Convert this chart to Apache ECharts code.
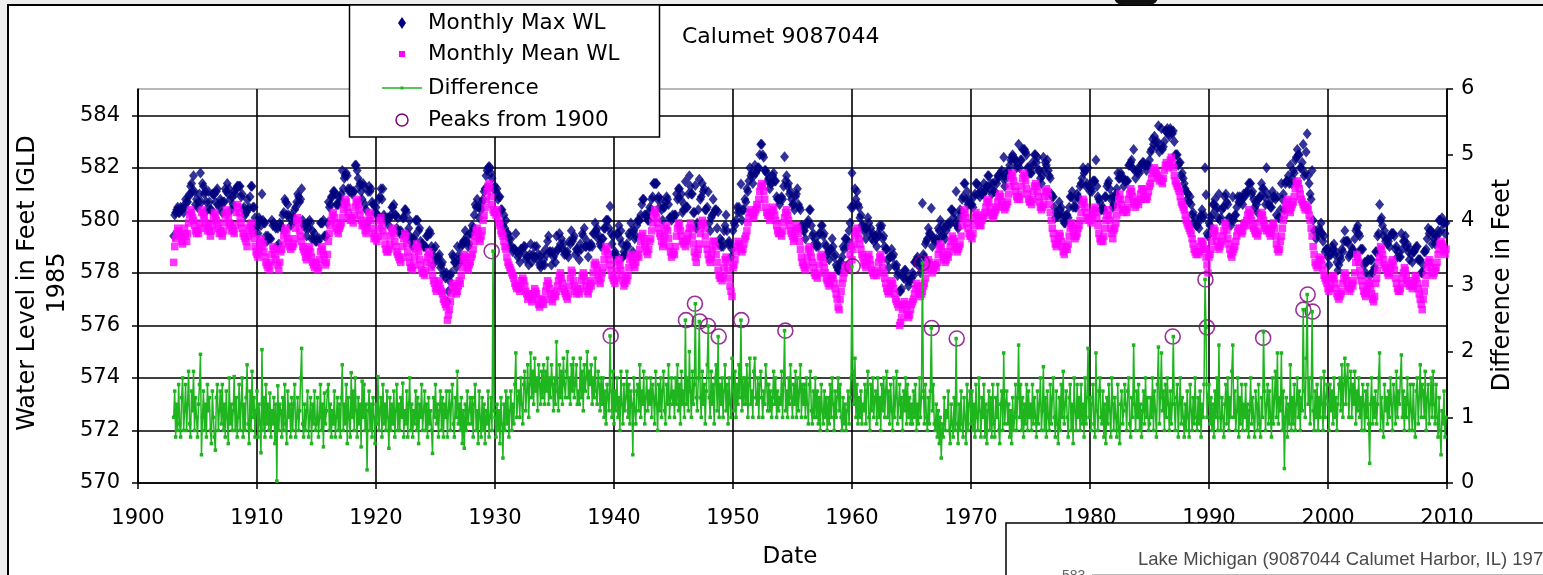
<!DOCTYPE html>
<html>
<head>
<meta charset="utf-8">
<script src="https://cdn.jsdelivr.net/npm/echarts@6/dist/echarts.min.js"></script>
<style>
  html, body { margin: 0; padding: 0; background: #ededed; overflow: hidden; }
  #page { position: relative; width: 1543px; height: 575px; }
  #frame { position: absolute; left: 7px; top: 4px; width: 1600px; height: 700px;
           background: #fff; border-left: 2px solid #000; border-top: 2px solid #000; }
  #chart { position: absolute; left: 0; top: 0; width: 1543px; height: 575px; }
</style>
</head>
<body>
<div id="page">
  <div id="frame"></div>
  <div id="chart"></div>
</div>
<script>
// Calumet Harbor gauge 9087044: monthly values, one row of 12 months per year, starting January 1903.
const FIRST_YEAR = 1903;

// Monthly mean water level (ft, IGLD 1985)
const meanWL = [
  578.4,579.0,579.3,579.5,579.7,579.6,579.4,579.5,579.2,579.1,579.4,579.7, // 1903
  579.4,579.2,579.5,579.9,580.2,580.4,580.3,580.1,580.0,579.8,579.6,579.5, // 1904
  579.6,579.5,579.7,579.9,580.3,580.4,580.2,580.1,579.9,579.7,579.6,579.8, // 1905
  579.6,579.4,579.6,579.8,580.1,580.3,580.2,580.0,579.9,579.7,579.5,579.6, // 1906
  579.5,579.4,579.6,579.9,580.2,580.4,580.3,580.1,579.9,579.8,579.6,579.7, // 1907
  579.6,579.5,579.8,580.3,580.6,580.5,580.3,580.1,579.9,579.7,579.5,579.4, // 1908
  579.3,579.2,579.0,579.4,579.7,579.8,579.6,579.9,579.5,579.3,579.0,578.8, // 1909
  578.7,578.6,578.9,579.2,579.3,579.0,579.1,578.8,578.6,578.4,578.3,578.2, // 1910
  578.3,578.1,578.4,578.7,579.0,578.9,578.7,578.5,578.9,578.3,578.1,578.4, // 1911
  578.8,578.9,579.1,579.4,579.6,579.7,579.5,579.3,579.2,579.0,578.9,579.0, // 1912
  579.0,579.1,579.3,579.7,580.0,580.1,579.9,579.6,579.4,579.2,579.0,578.9, // 1913
  578.8,578.6,578.5,578.7,578.9,579.0,578.8,578.6,578.4,578.3,578.2,578.4, // 1914
  578.3,578.1,578.2,578.5,578.8,579.0,578.9,578.7,578.5,578.3,578.4,578.7, // 1915
  579.2,579.5,579.8,580.0,580.2,580.3,580.1,579.9,579.7,579.6,579.5,579.7, // 1916
  579.8,579.9,580.1,580.4,580.6,580.8,580.7,580.5,580.3,580.1,580.0,580.1, // 1917
  580.0,579.9,580.2,580.5,580.7,580.8,580.6,580.4,580.2,580.0,579.8,579.9, // 1918
  579.8,579.6,579.5,579.7,580.0,580.3,580.2,580.0,579.7,579.5,579.3,579.4, // 1919
  579.3,579.2,579.4,579.7,580.0,580.1,579.8,579.6,579.4,579.1,578.9,578.8, // 1920
  578.8,578.9,579.1,579.4,579.6,579.7,579.5,579.2,579.0,578.8,578.7,578.6, // 1921
  578.5,578.4,578.6,579.0,579.3,579.5,579.4,579.1,578.8,578.6,578.4,578.2, // 1922
  578.2,578.1,578.3,578.6,578.9,579.1,579.0,578.8,578.5,578.3,578.1,578.0, // 1923
  578.0,577.9,578.1,578.4,578.6,578.8,578.7,578.4,578.2,577.9,577.7,577.6, // 1924
  577.4,577.3,577.5,577.7,577.6,577.4,577.3,577.2,577.0,576.9,576.8,576.7, // 1925
  576.2,576.4,576.6,576.9,577.2,577.5,577.6,577.5,577.3,577.2,577.3,577.5, // 1926
  577.7,577.6,577.9,578.2,578.5,578.7,578.6,578.4,578.2,578.1,578.3,578.4, // 1927
  578.6,578.7,578.9,579.2,579.4,579.6,579.7,579.5,579.3,579.2,579.4,579.6, // 1928
  580.0,580.2,580.5,580.8,581.1,581.3,581.4,581.2,580.9,580.6,580.4,580.3, // 1929
  580.3,580.2,580.4,580.1,579.9,579.8,579.6,579.5,579.4,579.2,579.0,578.9, // 1930
  578.6,578.4,578.3,578.2,578.1,578.0,577.9,577.8,577.6,577.5,577.4,577.5, // 1931
  577.4,577.3,577.5,577.7,577.8,577.7,577.5,577.3,577.2,577.0,577.1,577.2, // 1932
  577.1,576.9,577.0,577.2,577.4,577.3,577.2,577.0,576.8,576.7,576.8,577.0, // 1933
  576.9,576.8,577.0,577.3,577.5,577.7,577.6,577.4,577.2,577.0,576.9,577.1, // 1934
  577.2,577.1,577.3,577.5,577.7,577.9,578.0,577.8,577.6,577.4,577.3,577.2, // 1935
  577.1,577.0,577.2,577.5,577.8,578.1,578.0,577.7,577.5,577.3,577.2,577.4, // 1936
  577.3,577.2,577.4,577.7,577.9,578.0,577.9,577.7,577.5,577.3,577.2,577.4, // 1937
  577.6,577.5,577.7,578.0,578.3,578.4,578.3,578.1,577.9,577.7,577.6,577.8, // 1938
  578.0,578.2,578.5,578.8,579.0,578.9,578.7,578.5,578.3,578.1,577.9,577.8, // 1939
  577.7,577.6,577.8,578.1,578.4,578.5,578.3,578.1,577.9,577.7,577.5,577.6, // 1940
  577.8,577.7,577.9,578.2,578.5,578.7,578.6,578.4,578.3,578.2,578.4,578.6, // 1941
  578.7,578.6,578.9,579.2,579.4,579.5,579.3,579.1,579.0,578.8,578.7,578.9, // 1942
  579.2,579.3,579.6,579.9,580.2,580.4,580.3,580.1,579.9,579.7,579.5,579.4, // 1943
  579.2,579.0,579.1,579.4,579.7,579.8,579.6,579.3,579.0,578.8,578.6,578.7, // 1944
  578.8,578.7,579.0,579.4,579.7,579.9,579.8,579.6,579.4,579.2,579.1,579.2, // 1945
  579.0,579.2,579.3,579.5,579.7,579.9,579.7,579.4,579.1,578.8,578.6,578.4, // 1946
  578.7,578.9,579.1,579.5,579.8,580.0,579.9,579.7,579.4,579.1,578.9,578.7, // 1947
  578.5,578.4,578.6,578.9,579.2,579.2,579.0,578.7,578.4,578.1,577.9,577.8, // 1948
  577.8,577.7,577.9,578.2,578.5,578.6,578.4,578.1,577.8,577.5,577.3,577.1, // 1949
  578.2,578.3,578.5,578.8,579.0,579.2,579.1,579.0,578.9,578.8,578.9,579.1, // 1950
  579.3,579.4,579.6,579.9,580.1,580.3,580.4,580.3,580.2,580.1,580.3,580.4, // 1951
  580.6,580.5,580.8,581.1,581.3,581.4,581.3,581.1,580.8,580.5,580.3,580.2, // 1952
  580.2,580.0,580.1,580.3,580.5,580.4,580.2,580.0,579.8,579.6,579.5,579.5, // 1953
  579.5,579.4,579.6,579.9,580.1,580.3,580.4,580.2,580.0,579.8,579.6,579.5, // 1954
  579.4,579.2,579.3,579.6,579.8,579.7,579.5,579.2,578.9,578.6,578.4,578.3, // 1955
  578.2,578.1,578.3,578.6,578.9,579.0,578.8,578.6,578.4,578.2,578.0,577.9, // 1956
  577.9,577.8,578.0,578.3,578.6,578.7,578.6,578.4,578.2,578.0,577.8,577.7, // 1957
  577.6,577.5,577.6,577.8,577.9,577.8,577.6,577.4,577.2,577.0,576.7,576.6, // 1958
  577.0,577.3,577.6,577.8,578.0,578.2,578.3,578.2,578.1,578.3,578.7,579.0, // 1959
  578.5,578.9,579.1,579.4,579.6,579.7,579.5,579.3,579.1,578.9,578.7,578.6, // 1960
  578.4,578.3,578.2,578.4,578.6,578.7,578.5,578.3,578.1,578.0,577.9,578.0, // 1961
  578.0,577.9,578.1,578.4,578.6,578.7,578.5,578.2,578.0,577.8,577.6,577.4, // 1962
  577.3,577.2,577.3,577.5,577.7,577.6,577.4,577.2,577.0,576.9,576.8,576.7, // 1963
  576.0,576.1,576.3,576.6,576.8,576.9,576.8,576.6,576.4,576.3,576.4,576.6, // 1964
  576.8,576.9,577.0,577.2,577.4,577.6,577.5,577.3,577.2,577.1,577.2,577.3, // 1965
  577.5,577.6,577.8,578.1,578.3,578.5,578.4,578.2,578.1,578.0,578.1,578.3, // 1966
  578.3,578.2,578.4,578.7,578.9,579.1,579.0,578.8,578.6,578.5,578.4,578.5, // 1967
  578.7,578.6,578.8,579.0,579.2,579.4,579.3,579.2,579.0,578.9,578.8,578.9, // 1968
  579.0,579.1,579.4,579.8,580.1,580.4,580.3,580.1,579.9,579.7,579.5,579.4, // 1969
  579.4,579.3,579.5,579.8,580.1,580.3,580.2,580.0,579.9,579.8,579.8,580.0, // 1970
  580.1,580.2,580.3,580.5,580.7,580.8,580.7,580.5,580.3,580.2,580.1,580.2, // 1971
  580.3,580.4,580.5,580.7,580.9,581.0,580.9,580.7,580.6,580.5,580.4,580.5, // 1972
  580.6,580.7,581.0,581.3,581.6,581.8,581.7,581.5,581.3,581.1,580.9,580.8, // 1973
  580.9,580.8,581.0,581.3,581.6,581.8,581.7,581.5,581.2,581.0,580.8,580.7, // 1974
  580.7,580.6,580.8,581.1,581.3,581.4,581.3,581.1,580.9,580.7,580.5,580.4, // 1975
  580.5,580.6,580.9,581.1,581.2,581.1,580.9,580.6,580.3,580.0,579.7,579.5, // 1976
  579.3,579.1,579.0,579.1,579.3,579.5,579.4,579.2,579.0,578.8,578.7,578.9, // 1977
  579.0,578.9,579.1,579.4,579.7,579.9,579.8,579.6,579.4,579.3,579.4,579.5, // 1978
  579.7,579.8,580.0,580.3,580.6,580.8,580.7,580.5,580.3,580.1,580.0,580.1, // 1979
  580.0,579.9,580.1,580.3,580.4,580.5,580.3,580.1,579.8,579.5,579.3,579.2, // 1980
  579.3,579.2,579.4,579.7,580.0,580.2,580.4,580.2,580.0,579.7,579.5,579.3, // 1981
  579.6,579.7,579.9,580.2,580.5,580.8,581.0,580.8,580.6,580.4,580.3,580.4, // 1982
  580.4,580.3,580.5,580.8,581.0,581.2,581.1,580.9,580.7,580.6,580.5,580.7, // 1983
  580.7,580.6,580.8,581.0,581.2,581.2,581.1,580.9,580.8,580.8,580.9,581.1, // 1984
  581.3,581.4,581.6,581.8,581.9,582.0,581.9,581.8,581.7,581.6,581.5,581.6, // 1985
  581.5,581.4,581.6,581.9,582.1,582.2,582.1,582.0,582.1,582.3,582.4,582.2, // 1986
  582.0,581.7,581.5,581.4,581.3,581.2,581.1,580.9,580.7,580.6,580.5,580.4, // 1987
  580.2,580.0,579.9,579.8,579.7,579.6,579.5,579.3,579.1,578.9,578.8,578.7, // 1988
  578.8,578.7,578.8,579.0,579.2,579.2,579.1,578.9,578.9,578.6,578.3,578.0, // 1989
  578.6,578.7,578.9,579.2,579.5,579.7,579.6,579.4,579.2,579.0,578.9,579.0, // 1990
  579.1,579.2,579.4,579.6,579.9,579.8,579.6,579.3,579.1,578.9,578.7,578.6, // 1991
  578.8,578.9,579.0,579.2,579.4,579.6,579.7,579.7,579.6,579.5,579.6,579.8, // 1992
  579.9,579.8,580.0,580.2,580.4,580.3,580.2,580.0,579.8,579.7,579.6,579.5, // 1993
  579.5,579.4,579.6,579.9,580.1,580.3,580.2,580.0,579.8,579.7,579.6,579.7, // 1994
  579.6,579.5,579.4,579.6,579.8,579.9,579.7,579.4,579.1,578.9,578.8,578.9, // 1995
  579.2,579.4,579.7,580.0,580.2,580.5,580.7,580.8,580.6,580.4,580.3,580.5, // 1996
  580.6,580.7,580.9,581.2,581.4,581.5,581.4,581.2,581.0,580.8,580.7,580.6, // 1997
  580.5,580.4,580.6,580.5,580.4,580.2,580.0,579.7,579.4,579.0,578.7,578.4, // 1998
  578.3,578.2,578.3,578.5,578.6,578.5,578.3,578.1,577.9,577.8,577.7,577.6, // 1999
  577.4,577.3,577.4,577.6,577.8,577.9,577.8,577.6,577.4,577.2,577.1,577.0, // 2000
  577.1,577.2,577.3,577.6,577.8,578.0,577.9,577.7,577.5,577.4,577.3,577.4, // 2001
  577.6,577.5,577.7,578.0,578.4,578.7,578.6,578.4,578.1,577.9,577.7,577.5, // 2002
  577.3,577.2,577.1,577.3,577.5,577.7,577.6,577.4,577.2,577.0,576.9,577.1, // 2003
  577.6,577.8,578.1,578.4,578.6,579.0,578.9,578.7,578.5,578.3,578.2,578.1, // 2004
  578.0,577.9,578.0,578.2,578.4,578.5,578.3,578.1,577.8,577.6,577.4,577.3, // 2005
  577.3,577.4,577.6,577.8,578.0,578.2,578.1,577.9,577.7,577.6,577.5,577.6, // 2006
  577.5,577.4,577.5,577.7,577.9,577.8,577.6,577.4,577.2,577.0,576.8,576.6, // 2007
  577.0,577.3,577.6,577.9,578.2,578.4,578.5,578.4,578.2,578.0,577.9,578.0, // 2008
  578.1,578.2,578.4,578.7,578.9,579.1,579.2,579.1,579.0,578.8,578.7,578.9  // 2009
];

// Monthly maximum water level (ft, IGLD 1985)
const maxWL = [
  579.4,580.2,580.3,580.4,580.5,580.3,580.3,580.5,580.4,580.5,580.3,580.5, // 1903
  580.8,580.7,580.7,580.9,581.0,581.3,581.4,581.1,581.7,581.1,580.6,580.8, // 1904
  580.5,580.7,581.0,581.8,580.7,581.4,581.3,581.0,581.1,580.7,580.4,581.1, // 1905
  580.7,580.4,580.4,581.0,581.0,581.0,580.7,581.1,581.2,580.6,580.5,580.8, // 1906
  580.7,580.3,580.7,580.7,581.2,581.1,581.4,581.0,581.2,580.8,580.4,580.9, // 1907
  580.6,581.1,581.0,581.2,581.3,581.3,581.3,581.3,580.9,581.0,580.4,580.5, // 1908
  580.2,580.3,580.8,580.4,580.5,580.9,581.3,581.3,580.5,580.5,580.1,579.7, // 1909
  579.8,579.5,580.1,580.0,579.8,581.0,580.0,579.9,579.9,579.4,579.2,579.4, // 1910
  579.3,579.3,579.3,580.0,579.8,579.9,579.8,579.7,579.0,579.7,579.1,579.9, // 1911
  579.8,579.7,580.2,580.3,580.8,580.7,580.2,580.6,580.2,580.1,579.8,580.2, // 1912
  579.9,580.1,580.4,580.5,580.7,581.0,580.9,580.7,580.8,581.2,580.0,579.8, // 1913
  579.8,579.7,579.4,579.9,579.7,580.0,579.9,579.3,579.6,579.3,579.5,579.2, // 1914
  579.2,579.3,579.2,579.3,579.9,579.9,579.9,580.0,579.4,579.4,579.4,579.9, // 1915
  580.7,580.5,580.6,580.9,580.9,581.1,581.1,581.0,580.6,580.6,580.6,580.9, // 1916
  580.8,581.0,581.9,581.2,581.6,581.7,581.8,581.7,581.2,581.1,581.2,581.1, // 1917
  581.0,581.1,581.1,582.1,582.1,581.9,581.6,581.3,581.4,581.1,580.8,581.4, // 1918
  581.3,580.6,580.4,579.9,581.1,581.3,581.1,581.2,580.7,580.6,580.6,580.3, // 1919
  580.5,580.2,580.2,580.8,580.9,581.2,580.8,581.2,580.2,580.1,580.0,580.0, // 1920
  580.1,579.8,580.1,580.2,580.5,580.5,580.6,580.2,580.2,579.7,580.1,579.6, // 1921
  579.5,579.6,579.5,580.1,580.1,580.4,580.4,580.3,579.5,579.7,580.0,579.2, // 1922
  579.3,579.0,579.3,579.4,580.0,580.0,580.0,579.6,579.7,579.2,579.1,579.1, // 1923
  579.0,579.0,579.0,579.4,579.4,579.5,579.6,579.5,579.0,578.3,578.9,578.6, // 1924
  579.0,578.5,578.5,578.6,578.7,578.2,578.3,578.4,577.9,578.0,577.8,578.0, // 1925
  576.9,577.3,577.7,577.9,578.0,578.7,578.6,578.4,578.4,578.2,579.0,578.5, // 1926
  578.7,578.4,579.0,579.1,579.2,579.2,579.6,579.2,579.4,579.0,579.1,579.5, // 1927
  579.5,579.8,579.7,580.2,580.6,580.5,580.8,580.5,580.1,580.5,580.4,580.7, // 1928
  580.8,581.1,581.2,581.7,581.9,582.0,582.05,582.0,581.8,581.6,583.93,581.2, // 1929
  581.3,581.1,581.2,580.8,580.9,580.9,580.4,580.4,579.8,580.2,579.7,580.0, // 1930
  579.5,579.5,579.3,579.0,579.3,579.0,578.8,578.9,578.9,579.5,578.8,578.6, // 1931
  578.7,578.4,578.9,578.9,578.8,579.0,579.0,578.5,578.6,578.6,578.3,578.7, // 1932
  579.1,578.4,578.7,578.6,579.0,578.6,579.0,578.5,578.7,578.3,578.2,578.7, // 1933
  578.3,578.5,578.3,578.9,578.7,579.2,579.4,578.8,578.8,578.3,578.8,578.6, // 1934
  578.7,578.4,579.4,578.9,578.9,579.5,579.1,579.3,578.9,579.1,578.7,578.8, // 1935
  578.7,578.8,578.6,579.2,579.1,579.6,579.2,579.3,579.4,578.7,578.9,578.9, // 1936
  578.8,578.5,579.1,578.9,579.5,579.4,579.7,579.0,579.0,579.2,578.6,579.0, // 1937
  579.0,579.1,579.0,579.5,579.5,579.9,579.6,579.7,579.3,579.4,579.1,579.0, // 1938
  579.3,579.3,579.7,579.7,580.0,580.0,580.0,579.7,580.54,579.5,579.1,579.4, // 1939
  578.7,578.8,578.7,579.5,579.5,579.8,579.3,579.6,579.1,578.6,578.8,578.7, // 1940
  579.0,579.1,579.0,579.5,579.4,579.9,579.6,578.8,579.6,579.3,579.4,579.8, // 1941
  580.0,580.0,580.0,580.2,580.6,580.8,580.8,580.2,580.2,580.2,580.0,580.0, // 1942
  580.5,580.4,580.8,580.9,581.4,581.4,581.4,581.4,580.8,580.9,580.5,580.8, // 1943
  580.4,580.0,580.5,580.5,580.7,580.9,580.8,580.6,580.1,580.1,580.0,580.2, // 1944
  580.1,580.2,580.2,581.0,580.8,581.2,581.2,580.8,581.0,580.3,580.4,580.6, // 1945
  581.48,580.5,580.5,581.0,581.7,581.3,581.0,581.0,580.3,580.3,581.33,579.7, // 1946
  579.9,580.4,581.56,580.8,580.9,581.4,581.1,581.2,580.4,580.4,580.5,581.09, // 1947
  579.9,579.6,580.1,580.2,580.8,580.3,580.4,580.4,579.7,580.33,579.1,579.3, // 1948
  579.0,579.2,579.0,579.6,579.8,580.2,579.6,579.1,579.2,579.1,578.6,578.9, // 1949
  579.6,579.9,579.8,580.0,580.5,580.3,580.5,580.3,581.38,580.0,580.4,580.4, // 1950
  580.8,580.7,581.2,581.1,581.5,582.0,581.7,581.8,581.4,581.7,582.1,581.8, // 1951
  581.9,582.0,582.0,582.5,582.9,582.9,582.5,582.4,581.9,581.9,581.8,581.5, // 1952
  581.6,581.2,581.4,581.4,581.7,581.8,581.5,581.5,580.9,580.8,580.8,580.6, // 1953
  580.8,580.9,580.8,581.3,582.42,581.5,581.7,581.3,581.4,581.0,581.1,580.8, // 1954
  580.6,580.6,580.4,580.9,581.0,581.2,580.6,580.5,580.4,579.8,579.8,579.6, // 1955
  579.6,579.3,579.8,579.9,580.0,580.4,580.4,579.8,579.4,579.5,579.1,579.3, // 1956
  579.0,579.1,579.0,579.5,579.5,579.8,579.8,579.4,579.5,579.1,579.0,578.7, // 1957
  578.8,578.5,578.9,578.9,579.3,579.0,578.6,578.7,578.3,578.2,578.1,578.1, // 1958
  578.4,578.4,578.6,579.0,578.9,579.3,579.3,579.0,579.2,579.6,579.9,580.5, // 1959
  581.8,580.5,580.6,581.2,580.8,581.1,580.6,580.5,580.1,580.2,579.8,579.8, // 1960
  579.6,579.7,579.3,579.7,580.1,579.9,579.5,579.7,579.3,579.5,579.2,579.4, // 1961
  579.3,579.0,579.5,579.4,579.8,579.7,579.8,579.3,579.4,579.0,578.9,578.9, // 1962
  578.5,578.2,578.6,578.6,578.9,578.6,578.7,578.3,578.2,578.3,577.9,578.0, // 1963
  577.3,577.3,577.4,577.9,577.8,578.1,578.1,577.7,577.8,577.5,577.7,577.7, // 1964
  577.8,578.0,577.9,578.4,578.4,578.5,578.6,578.3,578.4,578.0,578.3,580.65, // 1965
  578.7,578.6,579.1,579.2,579.3,579.7,579.5,579.5,580.46,579.0,579.3,579.3, // 1966
  579.2,579.3,579.2,579.7,579.6,580.0,579.4,579.8,579.4,579.7,579.3,579.6, // 1967
  579.8,579.9,579.8,579.9,580.4,580.4,580.1,580.3,579.9,581.1,579.8,579.7, // 1968
  580.1,580.4,580.3,580.8,580.9,581.4,581.4,580.8,581.1,580.6,580.8,580.6, // 1969
  580.6,580.6,580.5,580.9,581.0,581.4,581.4,581.0,581.3,580.9,581.1,581.0, // 1970
  581.0,581.4,581.1,581.2,581.3,581.7,581.7,581.2,581.4,581.0,581.4,581.1, // 1971
  581.1,581.5,581.4,581.7,581.7,581.7,581.8,581.9,581.6,582.4,581.3,581.6, // 1972
  581.8,581.7,581.9,582.1,582.3,582.4,582.5,582.4,582.3,582.3,582.0,582.1, // 1973
  582.9,582.0,582.3,582.3,582.7,582.7,582.7,582.6,582.5,582.0,582.0,581.8, // 1974
  581.8,581.8,582.2,582.1,582.5,582.5,582.2,582.4,581.9,581.9,581.6,581.4, // 1975
  581.7,582.4,581.9,582.2,582.1,582.3,581.9,581.7,581.6,581.0,580.9,580.9, // 1976
  580.5,580.1,580.3,580.2,580.2,580.7,580.4,580.5,580.1,580.2,579.9,579.9, // 1977
  580.2,580.2,580.1,580.5,580.9,580.9,581.1,580.5,580.8,580.5,580.5,581.0, // 1978
  580.9,580.8,581.3,581.4,581.6,582.0,581.8,581.9,581.3,581.4,582.0,581.3, // 1979
  581.1,581.2,581.1,581.5,581.5,581.5,582.3,581.3,580.9,580.8,580.7,580.4, // 1980
  580.4,580.5,580.4,580.9,580.9,581.3,581.4,581.5,581.2,580.8,580.9,580.5, // 1981
  580.6,580.9,581.0,581.2,581.8,581.6,581.6,581.8,581.7,581.6,581.3,581.5, // 1982
  581.5,581.5,581.5,582.1,582.1,582.2,582.3,582.0,582.7,581.9,581.6,581.9, // 1983
  581.8,581.9,581.8,582.1,582.1,582.2,582.2,582.1,582.1,581.9,582.1,582.1, // 1984
  582.3,582.6,582.7,583.1,582.9,583.2,583.0,582.8,583.0,583.6,582.6,582.8, // 1985
  583.5,582.7,582.8,583.0,583.4,583.4,583.5,583.3,583.2,583.5,583.4,583.3, // 1986
  583.4,583.0,582.5,582.5,582.5,582.1,582.2,582.2,581.7,581.8,581.6,581.4, // 1987
  581.2,581.1,580.8,581.0,580.7,580.9,580.6,580.2,580.3,579.9,580.1,579.8, // 1988
  579.8,579.9,579.7,580.1,580.2,580.4,580.1,580.2,582.0,580.97,579.5,579.4, // 1989
  579.9,579.8,580.1,580.2,580.6,580.6,580.8,580.4,580.5,580.1,581.0,580.0, // 1990
  580.1,580.4,580.5,580.5,580.9,581.0,580.7,580.6,580.1,580.1,579.8,580.0, // 1991
  580.9,580.0,580.2,580.2,580.5,580.9,580.7,580.9,580.7,580.8,580.6,581.0, // 1992
  580.9,581.0,581.1,581.1,581.4,581.4,581.4,581.0,581.1,580.8,580.5,580.7, // 1993
  580.6,580.3,580.8,580.9,580.9,581.4,581.2,581.2,580.9,580.6,582.0,581.0, // 1994
  580.6,580.7,580.5,580.5,581.1,580.9,580.9,580.8,580.2,580.9,580.1,580.1, // 1995
  580.4,581.4,580.8,581.0,580.4,581.4,581.5,581.5,581.7,581.4,582.1,581.4, // 1996
  581.6,581.9,581.8,582.3,582.4,582.7,582.5,582.5,582.0,582.0,582.2,582.9, // 1997
  581.7,581.8,582.6,583.3,581.7,581.4,581.0,580.8,581.9,580.0,579.6,579.6, // 1998
  579.3,579.5,579.4,579.7,579.6,579.9,579.5,579.2,579.4,578.8,578.9,578.9, // 1999
  578.6,578.3,578.7,578.7,579.0,578.9,579.1,578.7,578.8,578.4,578.1,578.3, // 2000
  578.6,578.5,578.9,578.8,579.2,579.6,579.2,579.2,579.2,578.6,578.7,579.0, // 2001
  578.8,578.9,578.8,579.3,579.6,579.7,579.8,579.5,579.4,578.9,578.9,578.9, // 2002
  578.3,578.4,578.0,578.4,578.5,578.5,577.9,578.5,578.5,578.0,578.1,578.2, // 2003
  578.8,578.8,579.4,579.5,580.6,580.0,580.1,579.8,579.4,579.6,579.2,579.3, // 2004
  579.1,579.2,579.0,579.4,579.5,579.5,579.5,579.4,578.9,579.0,578.6,578.8, // 2005
  578.6,578.6,579.5,578.9,579.2,579.2,579.4,579.0,579.1,578.8,578.5,578.9, // 2006
  578.7,578.4,578.8,578.8,578.9,579.0,579.0,578.5,578.5,578.5,578.0,578.0, // 2007
  578.3,578.8,578.8,578.9,579.3,579.7,579.5,579.6,579.6,579.1,579.5,579.3, // 2008
  579.1,579.4,579.4,579.6,580.0,580.0,579.6,580.1,579.9,579.9,579.5,579.9  // 2009
];

// Difference between monthly max and monthly mean (ft), right axis
const diffFt = [
  1.0,1.4,0.7,1.2,0.8,1.5,0.9,0.7,1.3,1.6,0.8,1.1, // 1903
  1.5,0.8,1.2,1.7,0.9,0.7,1.4,1.1,1.7,0.8,1.3,1.0, // 1904
  0.7,1.2,1.5,1.96,0.43,1.0,1.4,0.8,1.2,0.7,1.5,1.1, // 1905
  1.3,0.8,0.6,1.4,1.0,0.7,0.5,1.3,1.5,0.8,1.1,1.4, // 1906
  0.9,1.5,0.8,1.2,0.7,1.4,1.0,0.6,1.6,0.9,1.2,0.8, // 1907
  1.1,1.62,0.8,1.3,0.7,1.0,1.5,0.8,1.2,1.6,0.7,1.2, // 1908
  0.8,1.3,1.8,0.9,0.6,1.4,0.8,1.7,1.0,1.3,0.7,1.1, // 1909
  1.4,0.7,1.2,0.9,0.46,2.03,0.8,1.3,0.7,1.5,0.9,1.2, // 1910
  0.8,1.37,0.7,1.1,0.9,1.3,0.6,1.2,0.03,1.48,0.8,1.2, // 1911
  1.1,0.7,1.3,0.8,1.5,0.9,0.6,1.4,1.0,1.2,0.7,1.3, // 1912
  0.8,1.2,1.5,0.7,1.0,1.3,0.8,1.1,1.6,2.05,0.9,0.7, // 1913
  1.2,0.8,1.1,1.4,0.7,1.0,1.3,0.6,1.2,0.9,1.4,0.8, // 1914
  0.9,1.3,0.7,1.0,1.5,0.8,1.2,0.55,1.37,0.9,1.1,1.4, // 1915
  1.5,0.8,1.2,0.7,1.1,0.9,1.4,0.7,1.0,1.3,0.8,1.2, // 1916
  0.7,1.3,1.8,0.8,1.2,0.9,1.5,0.6,1.3,1.0,0.7,1.68, // 1917
  1.0,1.4,0.8,1.6,1.1,0.7,1.3,0.9,1.2,0.55,1.55,1.0, // 1918
  1.5,0.8,1.2,0.2,1.1,1.4,0.8,1.2,0.7,1.3,1.0,0.6, // 1919
  1.2,0.9,1.62,0.8,1.1,1.3,0.7,1.5,0.9,1.2,0.8,1.4, // 1920
  1.0,0.53,1.3,0.8,1.2,0.9,1.4,0.7,1.1,1.5,0.8,1.2, // 1921
  0.8,1.3,1.0,1.52,0.7,1.1,0.9,1.4,0.7,1.2,1.6,0.8, // 1922
  1.2,0.7,1.1,0.9,1.4,0.8,1.3,0.6,1.2,1.0,1.5,0.8, // 1923
  1.1,1.4,0.8,1.2,0.7,1.3,0.9,1.1,0.8,0.45,1.3,1.0, // 1924
  1.5,0.9,1.2,0.7,1.1,1.4,0.8,1.3,0.7,1.2,1.0,1.4, // 1925
  0.7,1.1,1.4,0.8,1.2,1.5,0.9,0.7,1.3,1.0,1.7,0.9, // 1926
  1.2,0.8,1.3,0.6,1.1,0.53,1.2,0.8,1.4,0.9,1.1,1.3, // 1927
  0.9,1.3,0.7,1.2,1.5,0.8,1.1,0.6,1.4,1.0,0.7,1.3, // 1928
  0.8,1.2,0.6,1.1,0.9,1.4,0.7,1.0,1.3,0.8,3.53,1.1, // 1929
  1.0,0.7,1.2,0.8,1.1,0.6,1.3,0.9,0.38,1.2,0.8,1.4, // 1930
  0.9,1.3,0.7,1.1,1.4,0.8,1.2,0.9,1.5,1.98,1.0,1.3, // 1931
  1.4,1.0,1.6,1.2,0.9,1.5,1.7,1.1,1.4,1.8,1.0,1.5, // 1932
  1.98,1.3,1.7,1.2,1.9,1.4,1.6,1.1,1.8,1.5,1.2,1.7, // 1933
  1.3,1.8,1.2,1.7,1.4,1.9,1.2,1.6,1.3,1.8,1.5,1.1, // 1934
  1.6,1.2,2.15,1.4,1.1,1.8,1.3,1.7,1.2,1.9,1.5,1.3, // 1935
  1.7,2.0,1.3,1.6,1.2,1.8,1.4,1.9,1.3,1.5,1.8,1.2, // 1936
  1.4,1.2,1.9,1.3,1.7,1.1,1.8,1.4,1.6,2.0,1.3,1.7, // 1937
  1.5,1.8,1.2,1.6,1.3,1.9,1.4,1.2,1.7,1.5,1.1,1.6, // 1938
  1.2,1.6,1.0,1.4,0.9,1.5,1.3,1.1,2.24,1.4,1.0,1.7, // 1939
  0.9,1.4,1.1,1.6,1.0,1.3,0.8,1.7,1.2,0.9,1.5,1.1, // 1940
  1.3,1.7,1.0,1.5,0.9,1.4,1.2,0.43,1.6,1.1,0.9,1.4, // 1941
  1.5,1.1,1.8,1.0,1.4,1.2,1.7,0.9,1.3,1.6,1.1,1.4, // 1942
  1.2,1.6,1.0,1.5,1.3,0.9,1.7,1.2,0.8,1.5,1.1,1.6, // 1943
  1.0,1.4,1.7,1.1,0.9,1.5,1.2,1.8,1.0,1.3,1.6,1.2, // 1944
  1.4,1.0,1.6,1.2,1.8,1.1,1.5,0.9,1.7,1.2,1.4,1.0, // 1945
  2.48,1.2,1.6,1.1,2.0,1.4,1.0,1.7,1.2,1.5,2.73,1.3, // 1946
  1.1,1.6,2.46,1.3,1.0,1.7,1.2,1.5,0.9,1.4,1.8,2.39, // 1947
  1.3,1.0,1.7,1.2,1.5,0.9,1.6,1.8,1.1,2.23,1.0,1.5, // 1948
  1.2,1.6,1.0,1.4,1.8,1.1,1.5,0.9,1.6,1.2,1.0,1.9, // 1949
  1.4,1.1,1.7,1.0,1.5,1.2,1.8,1.3,2.48,1.1,1.6,1.2, // 1950
  1.6,1.2,1.8,1.0,1.5,1.9,1.2,1.4,1.0,1.7,1.9,1.3, // 1951
  1.2,1.6,1.0,1.5,1.7,1.3,1.0,1.4,1.2,1.8,1.5,1.1, // 1952
  1.5,1.1,1.4,1.0,1.3,1.7,1.2,1.6,1.0,1.4,1.1,1.3, // 1953
  1.2,1.7,1.0,1.5,2.32,1.1,1.4,1.0,1.6,1.2,1.8,1.3, // 1954
  1.0,1.5,1.2,1.7,1.0,1.6,1.1,1.4,1.8,1.0,1.5,1.2, // 1955
  1.5,1.0,1.6,1.2,0.9,1.5,1.7,1.1,0.9,1.4,1.0,1.6, // 1956
  1.0,1.4,0.9,1.3,0.8,1.5,1.1,0.9,1.4,1.0,1.3,0.8, // 1957
  1.3,0.9,1.5,1.0,1.6,1.2,0.8,1.4,1.0,1.3,1.6,1.1, // 1958
  1.5,1.0,0.8,1.3,0.9,1.2,0.8,1.1,1.4,0.9,1.3,1.6, // 1959
  3.3,1.7,1.2,1.9,1.0,1.5,0.9,1.3,1.0,1.4,0.9,1.2, // 1960
  1.1,1.5,0.9,1.4,1.7,1.0,0.8,1.5,1.1,1.6,1.0,1.3, // 1961
  1.4,0.9,1.6,1.0,1.3,0.8,1.5,1.1,1.6,1.0,1.4,1.7, // 1962
  1.0,1.4,0.9,1.5,1.1,0.8,1.6,1.0,1.3,1.7,0.9,1.2, // 1963
  1.5,1.0,1.3,0.8,1.4,1.1,1.6,0.9,1.5,1.0,1.3,0.9, // 1964
  1.2,0.9,1.4,1.0,1.5,0.8,1.2,0.9,1.6,1.0,1.3,3.35, // 1965
  1.4,0.9,1.5,1.0,0.8,1.3,0.9,1.4,2.36,1.1,1.5,0.9, // 1966
  0.8,1.2,0.7,1.1,0.6,1.0,0.38,0.9,0.7,1.3,0.8,1.1, // 1967
  1.0,1.4,0.8,0.6,1.2,0.9,0.7,1.3,0.8,2.2,0.9,0.6, // 1968
  1.2,0.8,1.4,0.9,0.7,1.3,1.0,0.6,1.5,0.8,1.2,1.4, // 1969
  0.9,1.4,0.8,1.2,0.7,1.5,1.0,0.8,1.6,1.1,0.7,1.3, // 1970
  1.0,1.5,0.7,1.2,0.6,1.1,1.4,0.8,1.3,0.7,1.5,0.9, // 1971
  0.7,1.3,1.0,1.5,0.8,0.6,1.2,1.4,0.8,1.98,0.9,1.2, // 1972
  1.4,0.9,1.2,0.7,1.1,0.6,1.3,0.8,1.0,1.5,0.8,1.3, // 1973
  2.1,1.0,1.5,0.8,1.3,0.7,1.2,0.9,1.5,0.8,1.4,1.0, // 1974
  1.2,0.8,1.5,0.9,1.3,1.0,0.7,1.4,0.9,1.2,1.6,0.8, // 1975
  1.1,1.77,0.8,1.3,0.7,1.4,1.0,0.8,1.5,0.9,1.3,1.6, // 1976
  1.0,0.7,1.4,0.9,0.6,1.3,0.8,1.5,1.0,1.7,0.9,1.2, // 1977
  1.4,1.0,0.7,1.3,1.5,0.8,1.2,0.6,1.6,1.1,0.8,1.5, // 1978
  1.0,1.3,0.8,1.5,0.9,1.2,0.7,1.6,0.9,1.3,2.05,1.0, // 1979
  1.3,0.8,1.2,1.5,0.9,0.7,1.98,1.1,0.8,1.4,1.6,1.0, // 1980
  0.9,1.4,0.7,1.2,0.6,1.3,0.9,1.5,1.1,0.7,1.6,1.2, // 1981
  0.8,1.3,1.0,0.7,1.5,0.8,0.6,1.2,1.4,0.9,1.1,1.5, // 1982
  1.2,0.8,1.4,1.6,0.9,0.7,1.3,1.0,2.1,1.2,0.8,1.4, // 1983
  1.0,1.5,0.8,1.2,0.7,1.1,1.4,0.9,1.6,1.0,1.3,0.8, // 1984
  0.9,1.3,1.0,1.6,0.8,1.4,1.1,0.7,1.5,2.07,0.9,1.3, // 1985
  1.98,1.1,1.4,0.8,1.5,1.0,1.6,1.2,0.8,1.4,0.9,1.2, // 1986
  2.23,1.2,0.8,1.3,1.5,0.7,1.2,1.6,0.9,1.3,1.0,0.7, // 1987
  1.2,0.8,1.4,1.0,0.7,1.5,1.1,0.8,1.3,0.9,1.6,1.0, // 1988
  0.8,1.3,0.9,1.4,0.7,1.2,1.0,1.5,3.1,2.37,1.0,1.3, // 1989
  1.5,0.9,1.3,0.8,1.2,0.7,1.4,1.0,1.6,0.8,2.1,1.0, // 1990
  0.8,1.3,1.0,0.7,1.2,1.5,0.9,1.6,0.8,1.3,1.0,1.7, // 1991
  2.1,1.0,1.4,0.8,1.1,1.6,0.7,1.3,0.9,1.5,0.8,1.2, // 1992
  1.0,1.5,0.8,1.2,0.7,1.1,1.6,0.9,1.3,1.0,0.7,1.4, // 1993
  1.2,0.8,1.5,0.9,0.7,1.3,1.0,2.3,1.4,0.8,1.2,1.5, // 1994
  0.9,1.4,1.0,0.7,1.6,0.9,1.3,1.7,1.0,1.98,0.9,1.3, // 1995
  1.1,1.98,0.8,1.4,0.22,1.0,1.3,0.7,1.2,0.9,1.8,0.8, // 1996
  1.3,0.9,1.5,0.8,1.2,1.6,1.0,1.4,0.8,1.3,1.1,2.64, // 1997
  1.4,1.0,1.9,2.87,1.2,1.6,0.9,1.3,2.61,1.1,0.8,1.4, // 1998
  1.0,1.5,0.8,1.3,1.0,1.6,1.2,0.8,1.7,1.0,1.3,1.5, // 1999
  1.2,0.8,1.5,1.1,1.4,0.9,1.6,1.0,1.3,0.8,1.2,1.5, // 2000
  1.6,1.1,1.8,1.0,1.5,1.9,1.2,1.6,1.8,1.0,1.4,1.7, // 2001
  1.0,1.5,1.2,1.7,0.9,1.4,1.1,1.6,1.0,1.3,0.8,1.5, // 2002
  1.2,0.8,1.4,1.0,1.5,0.9,0.3,1.2,1.6,0.9,1.3,1.0, // 2003
  1.4,0.9,1.2,1.6,1.98,0.8,1.3,1.0,0.7,1.5,1.1,1.3, // 2004
  0.9,1.4,1.0,1.6,1.2,0.8,1.5,1.3,0.9,1.7,1.0,1.4, // 2005
  1.2,1.6,1.95,1.0,1.4,0.8,1.3,1.0,1.6,1.2,0.8,1.5, // 2006
  1.1,0.8,1.5,1.0,0.7,1.4,1.6,0.9,1.3,1.8,1.0,1.5, // 2007
  1.4,1.0,1.7,0.8,1.3,1.5,0.9,1.2,1.6,1.0,1.7,1.2, // 2008
  0.9,1.5,1.0,0.7,1.3,0.8,0.43,1.1,0.9,1.4,0.7,1.0  // 2009
];

// Largest differences in the record since 1900 (decimal year, ft)
const peakYears = [1929.72, 1939.72, 1946.05, 1946.80, 1947.20, 1947.90, 1948.80, 1950.70, 1954.40, 1960.05,
                   1965.90, 1966.70, 1968.80, 1986.95, 1989.70, 1989.82, 1994.55, 1997.93, 1998.29, 1998.71];
const peakFt    = [3.53, 2.24, 2.48, 2.73, 2.46, 2.39, 2.23, 2.48, 2.32, 3.30,
                   3.35, 2.36, 2.20, 2.23, 3.10, 2.37, 2.21, 2.64, 2.87, 2.61];

const FONT = 'DejaVu Sans';

function monthly(values) {
  return values.map((v, i) => [FIRST_YEAR + i / 12, v]);
}

const chart = echarts.init(document.getElementById('chart'), null, { renderer: 'canvas' });

const axisLabelStyle = { color: '#000', fontFamily: FONT, fontSize: 21 };

function txt(x, y, text, size, extra) {
  return { type: 'text', z: 101, x: x, y: y,
    style: Object.assign({ text: text, font: size + 'px "DejaVu Sans"', fill: '#000', textVerticalAlign: 'middle' }, extra || {}) };
}

chart.setOption({
  animation: false,
  backgroundColor: 'transparent',
  grid: { left: 138, right: 96, top: 89, bottom: 92, show: false },
  xAxis: {
    type: 'value', min: 1900, max: 2010, interval: 10,
    axisLine: { lineStyle: { color: '#000', width: 1.6 } },
    axisTick: { show: true, inside: false, length: 6, lineStyle: { color: '#000', width: 1.5 } },
    axisLabel: Object.assign({ margin: 25, formatter: v => String(v) }, axisLabelStyle),
    splitLine: { show: true, lineStyle: { color: '#000', width: 1.6 } }
  },
  yAxis: [
    {
      type: 'value', min: 570, max: 585, interval: 2, position: 'left',
      axisLine: { show: true, lineStyle: { color: '#000', width: 1.6 } },
      axisTick: { show: true, inside: false, length: 6, lineStyle: { color: '#000', width: 1.5 } },
      axisLabel: Object.assign({ margin: 18, showMaxLabel: false }, axisLabelStyle),
      splitLine: { show: true, lineStyle: {
        color: ['#000', '#000', '#000', '#000', '#000', '#000', '#000', '#000', '#a0a0a0'], width: 1.6 } }
    },
    {
      type: 'value', min: 0, max: 6, interval: 1, position: 'right',
      axisLine: { show: true, lineStyle: { color: '#000', width: 1.6 } },
      axisTick: { show: true, inside: false, length: 6, lineStyle: { color: '#000', width: 1.5 } },
      axisLabel: Object.assign({ margin: 14 }, axisLabelStyle),
      splitLine: { show: false }
    }
  ],
  series: [
    {
      name: 'Monthly Max WL', type: 'scatter', yAxisIndex: 0, silent: true,
      data: monthly(maxWL), symbol: 'diamond', symbolSize: [9, 11],
      itemStyle: { color: '#000080' }
    },
    {
      name: 'Monthly Mean WL', type: 'scatter', yAxisIndex: 0, silent: true,
      data: monthly(meanWL), symbol: 'rect', symbolSize: 7.5,
      itemStyle: { color: '#ff00ff' }
    },
    {
      name: 'Difference', type: 'line', yAxisIndex: 1, silent: true,
      data: monthly(diffFt), symbol: 'rect', symbolSize: 3.5, showAllSymbol: true,
      lineStyle: { color: '#1fb51f', width: 1.5 }, itemStyle: { color: '#1fb51f' }
    },
    {
      name: 'Peaks from 1900', type: 'scatter', yAxisIndex: 1, silent: true,
      data: peakYears.map((y, i) => [y, peakFt[i]]), symbol: 'circle', symbolSize: 15,
      itemStyle: { color: 'rgba(0,0,0,0)', borderColor: '#800080', borderWidth: 1.6 }
    }
  ],
  graphic: [
    // legend box
    { type: 'rect', z: 100, shape: { x: 349.5, y: 5, width: 310, height: 132 },
      style: { fill: '#fff', stroke: '#000', lineWidth: 1.5 } },
    { type: 'polygon', z: 101, shape: { points: [[402, 17], [406, 23], [402, 29], [398, 23]] }, style: { fill: '#000080' } },
    { type: 'rect', z: 101, shape: { x: 399, y: 51, width: 6, height: 6 }, style: { fill: '#ff00ff' } },
    { type: 'line', z: 101, shape: { x1: 382, y1: 88, x2: 422, y2: 88 }, style: { stroke: '#1fb51f', lineWidth: 1.6 } },
    { type: 'rect', z: 101, shape: { x: 400.5, y: 86.5, width: 3, height: 3 }, style: { fill: '#1fb51f' } },
    { type: 'circle', z: 101, shape: { cx: 402, cy: 120, r: 6 }, style: { fill: 'none', stroke: '#800080', lineWidth: 1.5 } },
    txt(428, 23, 'Monthly Max WL', 21.5),
    txt(428, 54, 'Monthly Mean WL', 21.5),
    txt(428, 88, 'Difference', 21.5),
    txt(428, 120, 'Peaks from 1900', 21.5),
    // title
    txt(682, 37, 'Calumet 9087044', 22),
    // axis names
    Object.assign(txt(28, 283, 'Water Level in Feet IGLD', 24, { textAlign: 'center' }), { rotation: Math.PI / 2 }),
    Object.assign(txt(58, 283, '1985', 24, { textAlign: 'center' }), { rotation: Math.PI / 2 }),
    Object.assign(txt(1503, 285, 'Difference in Feet', 24, { textAlign: 'center' }), { rotation: Math.PI / 2 }),
    txt(790, 557, 'Date', 23, { textAlign: 'center' }),
    // dark knob on the top edge
    { type: 'rect', z: 101, shape: { x: 1114, y: -12, width: 44, height: 17, r: 9 }, style: { fill: '#111' } },
    // overlapping second chart in the lower right
    { type: 'rect', z: 110, shape: { x: 1006, y: 523, width: 700, height: 120 },
      style: { fill: '#fff', stroke: '#000', lineWidth: 1.5 } },
    { type: 'text', z: 111, x: 1138, y: 560,
      style: { text: 'Lake Michigan (9087044 Calumet Harbor, IL) 197', font: '18.5px "Liberation Sans"', fill: '#4a4a4a',
               textVerticalAlign: 'middle' } },
    { type: 'line', z: 111, shape: { x1: 1092, y1: 574.5, x2: 1560, y2: 574.5 }, style: { stroke: '#bbb', lineWidth: 1 } },
    { type: 'text', z: 111, x: 1062, y: 576,
      style: { text: '583', font: '14px "Liberation Sans"', fill: '#666', textVerticalAlign: 'middle' } }
  ]
});
</script>
</body>
</html>
